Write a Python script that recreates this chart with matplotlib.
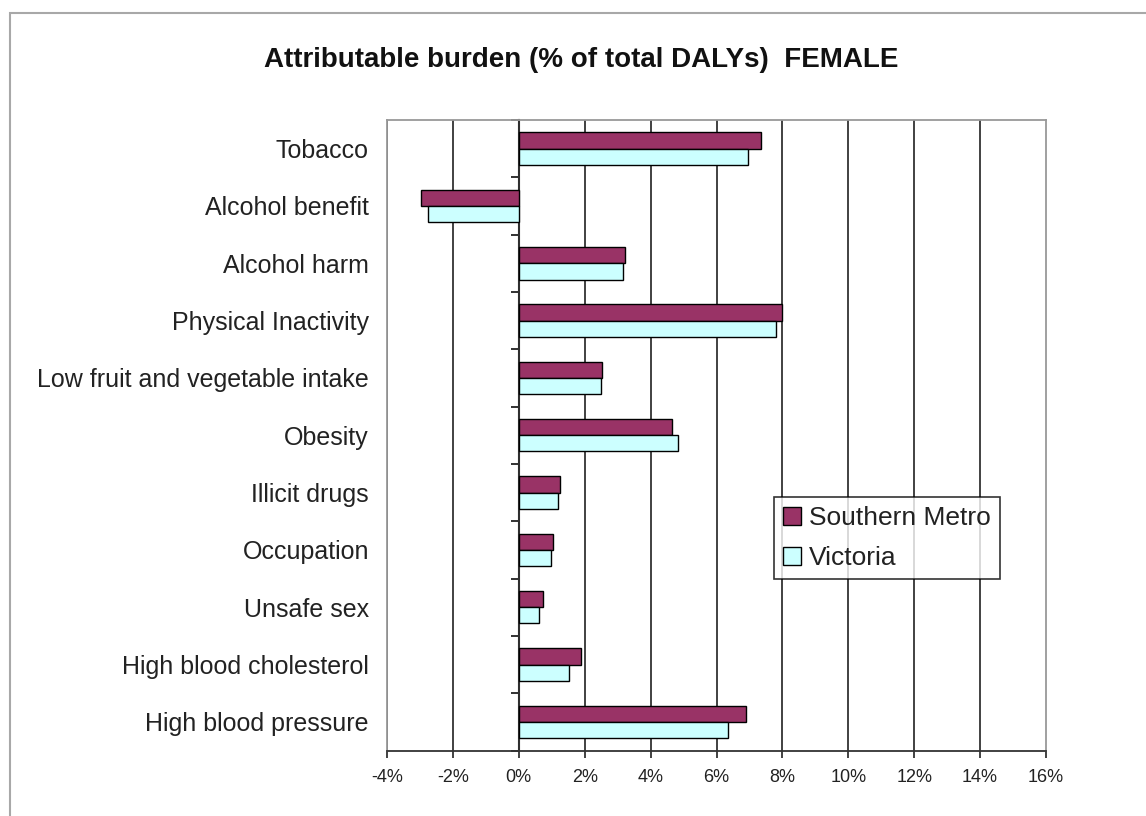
import matplotlib
matplotlib.use("Agg")
import matplotlib.pyplot as plt
from matplotlib.patches import Rectangle
import numpy as np

# Risk factors, listed top to bottom
categories = [
    "Tobacco",
    "Alcohol benefit",
    "Alcohol harm",
    "Physical Inactivity",
    "Low fruit and vegetable intake",
    "Obesity",
    "Illicit drugs",
    "Occupation",
    "Unsafe sex",
    "High blood cholesterol",
    "High blood pressure",
]

# Attributable burden, % of total DALYs (female)
southern_metro = [7.34, -2.98, 3.22, 8.00, 2.53, 4.65, 1.24, 1.04, 0.72, 1.88, 6.91]
victoria = [6.96, -2.75, 3.17, 7.82, 2.48, 4.83, 1.19, 0.99, 0.61, 1.53, 6.36]

series_names = ["Southern Metro", "Victoria"]
x_ticks = [-4, -2, 0, 2, 4, 6, 8, 10, 12, 14, 16]

plt.rcParams["font.family"] = ["Liberation Sans", "DejaVu Sans"]

W, H = 1146, 816
fig = plt.figure(figsize=(W / 100, H / 100), dpi=100)
fig.patch.set_facecolor("white")

# chart-area frame (continues past the right and bottom edges)
fig.patches.append(Rectangle((10 / W, -0.1), 1.2, 1 - 13 / H + 0.1,
                             transform=fig.transFigure, fill=False,
                             edgecolor="#a8a8a8", linewidth=1.5))

left, right, top, bottom = 387 / W, 1046 / W, 1 - 120 / H, 1 - 750.5 / H
ax = fig.add_axes([left, bottom, right - left, top - bottom])

y = np.arange(len(categories))
bar_h = 0.283
ax.barh(y - bar_h / 2, southern_metro, height=bar_h, color="#993366",
        edgecolor="black", linewidth=1.0, label=series_names[0], zorder=3)
ax.barh(y + bar_h / 2, victoria, height=bar_h, color="#ccffff",
        edgecolor="black", linewidth=1.0, label=series_names[1], zorder=3)

ax.set_xlim(x_ticks[0], x_ticks[-1])
ax.set_ylim(len(categories) - 0.5, -0.5)

ax.set_xticks(x_ticks)
ax.set_xticklabels([f"{t}%" for t in x_ticks], fontsize=13, color="#222222")
ax.tick_params(axis="x", direction="out", length=5, width=1.3,
               color="#333333", pad=8)
ax.xaxis.grid(True, color="#333333", linewidth=1.3, zorder=1)
ax.set_axisbelow(True)
# the right border is the plot frame, not a gridline
ax.xaxis.get_gridlines()[-1].set_visible(False)

ax.set_yticks(y)
ax.set_yticklabels(categories, fontsize=18, color="#222222")
ax.tick_params(axis="y", length=0, pad=13)

for side in ("top", "right", "left"):
    ax.spines[side].set_color("#999999")
    ax.spines[side].set_linewidth(1.3)
ax.spines["bottom"].set_color("#333333")
ax.spines["bottom"].set_linewidth(1.3)

# category axis drawn through zero, with ticks between categories
zero_frac = (0 - x_ticks[0]) / (x_ticks[-1] - x_ticks[0])
cat_axis = ax.secondary_yaxis(zero_frac)
cat_axis.set_yticks(np.arange(len(categories) + 1) - 0.5)
cat_axis.set_yticklabels([])
cat_axis.tick_params(axis="y", direction="out", length=6, width=1.3,
                     color="#222222")
cat_axis.spines["left"].set_color("#111111")
cat_axis.spines["left"].set_linewidth(1.5)

leg = ax.legend(loc="upper left", bbox_to_anchor=(774 / W, 1 - 497 / H),
                bbox_transform=fig.transFigure, fontsize=19, frameon=True,
                fancybox=False, shadow=False, handlelength=0.68,
                handleheight=0.68, handletextpad=0.3, borderpad=0.35,
                labelspacing=0.6, borderaxespad=0)
leg.get_frame().set_edgecolor("black")
leg.get_frame().set_linewidth(1.2)
for t in leg.get_texts():
    t.set_color("#222222")

fig.text(581.5 / W, 1 - 60 / H, "Attributable burden (% of total DALYs)  FEMALE",
         ha="center", va="center", fontsize=20, fontweight="bold",
         color="#111111")

fig.savefig("out.png", dpi=100, facecolor="white")
